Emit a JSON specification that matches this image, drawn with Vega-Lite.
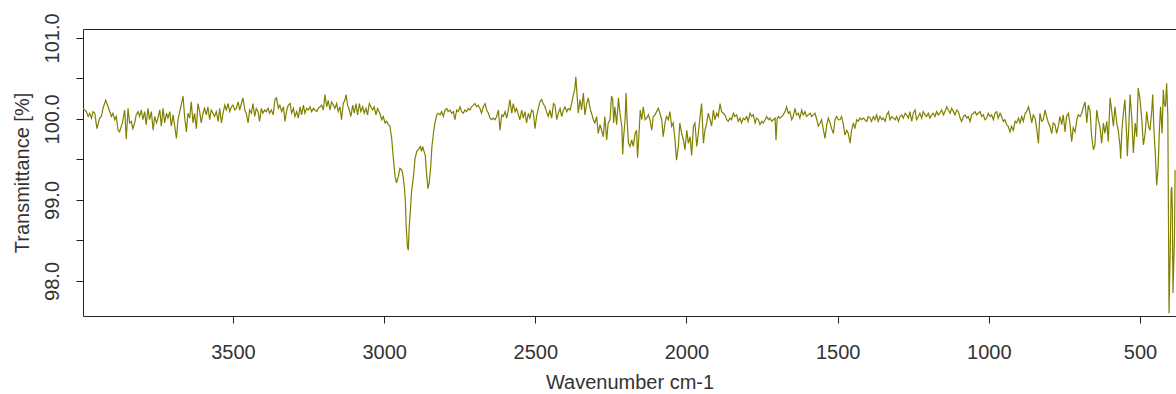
{
  "$schema": "https://vega.github.io/schema/vega-lite/v6.json",
  "width": 1093,
  "height": 287,
  "autosize": "none",
  "padding": {"left": 83, "top": 29, "right": 0, "bottom": 78},
  "background": "white",
  "config": {
    "font": "Liberation Sans",
    "view": {"stroke": "#222", "strokeWidth": 1}
  },
  "data": {"values": [
    {"wavenumber":3996,"transmittance":100.13},{"wavenumber":3985,"transmittance":100.09},{"wavenumber":3979,"transmittance":100.03},{"wavenumber":3974,"transmittance":100.07},{"wavenumber":3968,"transmittance":100.01},{"wavenumber":3963,"transmittance":100.09},{"wavenumber":3957,"transmittance":100.07},{"wavenumber":3950,"transmittance":99.88},{"wavenumber":3941,"transmittance":100.01},{"wavenumber":3935,"transmittance":100.03},{"wavenumber":3930,"transmittance":100.13},{"wavenumber":3921,"transmittance":100.23},{"wavenumber":3913,"transmittance":100.15},{"wavenumber":3902,"transmittance":100.03},{"wavenumber":3897,"transmittance":100.07},{"wavenumber":3891,"transmittance":99.99},{"wavenumber":3886,"transmittance":100.03},{"wavenumber":3880,"transmittance":99.86},{"wavenumber":3875,"transmittance":99.84},{"wavenumber":3866,"transmittance":99.95},{"wavenumber":3858,"transmittance":100.11},{"wavenumber":3853,"transmittance":99.75},{"wavenumber":3847,"transmittance":100.13},{"wavenumber":3842,"transmittance":99.95},{"wavenumber":3836,"transmittance":99.97},{"wavenumber":3831,"transmittance":99.88},{"wavenumber":3825,"transmittance":99.95},{"wavenumber":3820,"transmittance":100.05},{"wavenumber":3814,"transmittance":100.09},{"wavenumber":3809,"transmittance":100.03},{"wavenumber":3803,"transmittance":100.11},{"wavenumber":3798,"transmittance":99.99},{"wavenumber":3792,"transmittance":100.09},{"wavenumber":3787,"transmittance":99.93},{"wavenumber":3781,"transmittance":100.13},{"wavenumber":3776,"transmittance":99.99},{"wavenumber":3770,"transmittance":100.09},{"wavenumber":3764,"transmittance":99.86},{"wavenumber":3759,"transmittance":100.03},{"wavenumber":3753,"transmittance":99.95},{"wavenumber":3748,"transmittance":100.01},{"wavenumber":3742,"transmittance":100.11},{"wavenumber":3737,"transmittance":99.91},{"wavenumber":3731,"transmittance":100.13},{"wavenumber":3726,"transmittance":99.95},{"wavenumber":3720,"transmittance":100.07},{"wavenumber":3715,"transmittance":100.01},{"wavenumber":3709,"transmittance":100.09},{"wavenumber":3704,"transmittance":99.91},{"wavenumber":3698,"transmittance":100.05},{"wavenumber":3687,"transmittance":99.76},{"wavenumber":3682,"transmittance":99.99},{"wavenumber":3676,"transmittance":100.09},{"wavenumber":3665,"transmittance":100.28},{"wavenumber":3660,"transmittance":100.03},{"wavenumber":3654,"transmittance":99.84},{"wavenumber":3649,"transmittance":100.07},{"wavenumber":3643,"transmittance":100.01},{"wavenumber":3638,"transmittance":100.21},{"wavenumber":3632,"transmittance":99.95},{"wavenumber":3627,"transmittance":100.07},{"wavenumber":3621,"transmittance":99.88},{"wavenumber":3616,"transmittance":100.19},{"wavenumber":3610,"transmittance":100.09},{"wavenumber":3605,"transmittance":99.95},{"wavenumber":3599,"transmittance":100.07},{"wavenumber":3594,"transmittance":100.13},{"wavenumber":3588,"transmittance":100.05},{"wavenumber":3583,"transmittance":100.15},{"wavenumber":3577,"transmittance":99.99},{"wavenumber":3572,"transmittance":100.11},{"wavenumber":3566,"transmittance":100.07},{"wavenumber":3561,"transmittance":100.03},{"wavenumber":3555,"transmittance":100.09},{"wavenumber":3549,"transmittance":99.97},{"wavenumber":3544,"transmittance":100.13},{"wavenumber":3538,"transmittance":99.95},{"wavenumber":3533,"transmittance":100.07},{"wavenumber":3527,"transmittance":100.17},{"wavenumber":3522,"transmittance":100.11},{"wavenumber":3516,"transmittance":100.19},{"wavenumber":3511,"transmittance":100.09},{"wavenumber":3505,"transmittance":100.15},{"wavenumber":3500,"transmittance":100.17},{"wavenumber":3494,"transmittance":100.11},{"wavenumber":3489,"transmittance":100.13},{"wavenumber":3483,"transmittance":100.21},{"wavenumber":3478,"transmittance":100.11},{"wavenumber":3467,"transmittance":100.26},{"wavenumber":3461,"transmittance":100.11},{"wavenumber":3456,"transmittance":100.07},{"wavenumber":3450,"transmittance":99.95},{"wavenumber":3445,"transmittance":100.11},{"wavenumber":3439,"transmittance":100.07},{"wavenumber":3434,"transmittance":100.19},{"wavenumber":3428,"transmittance":100.03},{"wavenumber":3423,"transmittance":100.13},{"wavenumber":3417,"transmittance":100.09},{"wavenumber":3412,"transmittance":99.97},{"wavenumber":3406,"transmittance":100.13},{"wavenumber":3401,"transmittance":100.07},{"wavenumber":3395,"transmittance":100.11},{"wavenumber":3390,"transmittance":100.09},{"wavenumber":3384,"transmittance":100.13},{"wavenumber":3379,"transmittance":100.07},{"wavenumber":3373,"transmittance":100.11},
    {"wavenumber":3367,"transmittance":100.05},{"wavenumber":3361,"transmittance":100.24},{"wavenumber":3356,"transmittance":100.26},{"wavenumber":3350,"transmittance":100.13},{"wavenumber":3345,"transmittance":100.17},{"wavenumber":3339,"transmittance":100.09},{"wavenumber":3333,"transmittance":100.15},{"wavenumber":3328,"transmittance":99.97},{"wavenumber":3322,"transmittance":100.11},{"wavenumber":3317,"transmittance":100.17},{"wavenumber":3311,"transmittance":100.19},{"wavenumber":3306,"transmittance":100.07},{"wavenumber":3300,"transmittance":100.13},{"wavenumber":3295,"transmittance":100.03},{"wavenumber":3289,"transmittance":100.09},{"wavenumber":3284,"transmittance":100.01},{"wavenumber":3278,"transmittance":100.15},{"wavenumber":3273,"transmittance":100.05},{"wavenumber":3267,"transmittance":100.17},{"wavenumber":3262,"transmittance":100.07},{"wavenumber":3256,"transmittance":100.13},{"wavenumber":3251,"transmittance":100.11},{"wavenumber":3245,"transmittance":100.15},{"wavenumber":3240,"transmittance":100.09},{"wavenumber":3234,"transmittance":100.13},{"wavenumber":3229,"transmittance":100.11},{"wavenumber":3223,"transmittance":100.09},{"wavenumber":3218,"transmittance":100.13},{"wavenumber":3212,"transmittance":100.15},{"wavenumber":3207,"transmittance":100.17},{"wavenumber":3201,"transmittance":100.11},{"wavenumber":3196,"transmittance":100.30},{"wavenumber":3190,"transmittance":100.15},{"wavenumber":3185,"transmittance":100.23},{"wavenumber":3179,"transmittance":100.11},{"wavenumber":3174,"transmittance":100.21},{"wavenumber":3168,"transmittance":100.17},{"wavenumber":3163,"transmittance":100.13},{"wavenumber":3157,"transmittance":100.19},{"wavenumber":3152,"transmittance":100.09},{"wavenumber":3146,"transmittance":100.15},{"wavenumber":3141,"transmittance":99.99},{"wavenumber":3135,"transmittance":100.19},{"wavenumber":3130,"transmittance":100.23},{"wavenumber":3126,"transmittance":100.30},{"wavenumber":3121,"transmittance":100.17},{"wavenumber":3115,"transmittance":100.11},{"wavenumber":3110,"transmittance":100.03},{"wavenumber":3104,"transmittance":100.17},{"wavenumber":3099,"transmittance":100.07},{"wavenumber":3093,"transmittance":100.19},{"wavenumber":3088,"transmittance":100.05},{"wavenumber":3082,"transmittance":100.19},{"wavenumber":3077,"transmittance":100.09},{"wavenumber":3071,"transmittance":100.15},{"wavenumber":3066,"transmittance":100.07},{"wavenumber":3060,"transmittance":100.13},{"wavenumber":3055,"transmittance":100.05},{"wavenumber":3049,"transmittance":100.19},{"wavenumber":3044,"transmittance":100.15},{"wavenumber":3038,"transmittance":100.11},{"wavenumber":3033,"transmittance":100.15},{"wavenumber":3027,"transmittance":100.05},{"wavenumber":3022,"transmittance":100.13},{"wavenumber":3014,"transmittance":100.07},{"wavenumber":3008,"transmittance":99.99},{"wavenumber":3003,"transmittance":100.03},{"wavenumber":2997,"transmittance":99.95},{"wavenumber":2992,"transmittance":99.97},{"wavenumber":2986,"transmittance":99.93},{"wavenumber":2981,"transmittance":99.91},{"wavenumber":2975,"transmittance":99.76},{"wavenumber":2970,"transmittance":99.53},{"wavenumber":2964,"transmittance":99.29},{"wavenumber":2959,"transmittance":99.21},{"wavenumber":2953,"transmittance":99.29},{"wavenumber":2948,"transmittance":99.39},{"wavenumber":2942,"transmittance":99.37},{"wavenumber":2939,"transmittance":99.33},{"wavenumber":2933,"transmittance":99.16},{"wavenumber":2930,"transmittance":98.99},{"wavenumber":2927,"transmittance":98.67},{"wavenumber":2923,"transmittance":98.42},{"wavenumber":2920,"transmittance":98.38},{"wavenumber":2917,"transmittance":98.67},{"wavenumber":2913,"transmittance":98.88},{"wavenumber":2909,"transmittance":99.12},{"wavenumber":2903,"transmittance":99.29},{"wavenumber":2898,"transmittance":99.51},{"wavenumber":2892,"transmittance":99.60},{"wavenumber":2887,"transmittance":99.62},{"wavenumber":2881,"transmittance":99.66},{"wavenumber":2876,"transmittance":99.60},{"wavenumber":2873,"transmittance":99.66},{"wavenumber":2868,"transmittance":99.60},{"wavenumber":2864,"transmittance":99.55},{"wavenumber":2859,"transmittance":99.29},{"wavenumber":2855,"transmittance":99.14},{"wavenumber":2851,"transmittance":99.21},{"wavenumber":2846,"transmittance":99.41},{"wavenumber":2842,"transmittance":99.66},{"wavenumber":2837,"transmittance":99.82},{"wavenumber":2832,"transmittance":99.95},{"wavenumber":2826,"transmittance":100.05},{"wavenumber":2821,"transmittance":100.07},{"wavenumber":2815,"transmittance":100.05},{"wavenumber":2810,"transmittance":100.09},{"wavenumber":2804,"transmittance":100.03},{"wavenumber":2799,"transmittance":100.11},{"wavenumber":2793,"transmittance":100.13},{"wavenumber":2788,"transmittance":100.09},{"wavenumber":2782,"transmittance":100.11},{"wavenumber":2777,"transmittance":100.07},{"wavenumber":2771,"transmittance":100.09},{"wavenumber":2766,"transmittance":99.99},{"wavenumber":2760,"transmittance":100.11},{"wavenumber":2755,"transmittance":100.09},
    {"wavenumber":2749,"transmittance":100.15},{"wavenumber":2744,"transmittance":100.09},{"wavenumber":2738,"transmittance":100.07},{"wavenumber":2733,"transmittance":100.11},{"wavenumber":2727,"transmittance":100.09},{"wavenumber":2722,"transmittance":100.13},{"wavenumber":2716,"transmittance":100.11},{"wavenumber":2711,"transmittance":100.15},{"wavenumber":2705,"transmittance":100.17},{"wavenumber":2700,"transmittance":100.19},{"wavenumber":2694,"transmittance":100.15},{"wavenumber":2689,"transmittance":100.17},{"wavenumber":2683,"transmittance":100.13},{"wavenumber":2678,"transmittance":100.07},{"wavenumber":2672,"transmittance":100.15},{"wavenumber":2666,"transmittance":100.19},{"wavenumber":2661,"transmittance":100.11},{"wavenumber":2655,"transmittance":100.07},{"wavenumber":2650,"transmittance":100.01},{"wavenumber":2644,"transmittance":99.99},{"wavenumber":2639,"transmittance":100.01},{"wavenumber":2633,"transmittance":99.99},{"wavenumber":2628,"transmittance":100.03},{"wavenumber":2622,"transmittance":100.11},{"wavenumber":2617,"transmittance":99.86},{"wavenumber":2611,"transmittance":100.05},{"wavenumber":2606,"transmittance":100.03},{"wavenumber":2600,"transmittance":100.09},{"wavenumber":2595,"transmittance":100.01},{"wavenumber":2589,"transmittance":100.11},{"wavenumber":2584,"transmittance":100.24},{"wavenumber":2578,"transmittance":100.07},{"wavenumber":2573,"transmittance":100.19},{"wavenumber":2567,"transmittance":100.09},{"wavenumber":2562,"transmittance":100.13},{"wavenumber":2556,"transmittance":100.05},{"wavenumber":2551,"transmittance":99.99},{"wavenumber":2545,"transmittance":100.11},{"wavenumber":2540,"transmittance":100.01},{"wavenumber":2534,"transmittance":100.09},{"wavenumber":2529,"transmittance":99.95},{"wavenumber":2523,"transmittance":100.07},{"wavenumber":2518,"transmittance":100.01},{"wavenumber":2512,"transmittance":100.11},{"wavenumber":2507,"transmittance":100.09},{"wavenumber":2501,"transmittance":99.88},{"wavenumber":2496,"transmittance":100.03},{"wavenumber":2490,"transmittance":100.13},{"wavenumber":2485,"transmittance":100.21},{"wavenumber":2479,"transmittance":100.24},{"wavenumber":2474,"transmittance":100.19},{"wavenumber":2468,"transmittance":100.15},{"wavenumber":2463,"transmittance":100.09},{"wavenumber":2457,"transmittance":100.03},{"wavenumber":2452,"transmittance":100.11},{"wavenumber":2446,"transmittance":100.01},{"wavenumber":2440,"transmittance":100.19},{"wavenumber":2435,"transmittance":100.17},{"wavenumber":2429,"transmittance":99.99},{"wavenumber":2424,"transmittance":100.07},{"wavenumber":2418,"transmittance":100.13},{"wavenumber":2413,"transmittance":100.03},{"wavenumber":2407,"transmittance":100.11},{"wavenumber":2402,"transmittance":100.15},{"wavenumber":2396,"transmittance":100.09},{"wavenumber":2391,"transmittance":100.13},{"wavenumber":2385,"transmittance":100.11},{"wavenumber":2380,"transmittance":100.19},{"wavenumber":2374,"transmittance":100.30},{"wavenumber":2369,"transmittance":100.38},{"wavenumber":2366,"transmittance":100.52},{"wavenumber":2362,"transmittance":100.30},{"wavenumber":2358,"transmittance":100.07},{"wavenumber":2352,"transmittance":100.24},{"wavenumber":2347,"transmittance":100.11},{"wavenumber":2341,"transmittance":100.32},{"wavenumber":2336,"transmittance":100.05},{"wavenumber":2330,"transmittance":100.19},{"wavenumber":2325,"transmittance":100.26},{"wavenumber":2319,"transmittance":100.13},{"wavenumber":2314,"transmittance":100.07},{"wavenumber":2308,"transmittance":99.99},{"wavenumber":2303,"transmittance":99.95},{"wavenumber":2297,"transmittance":100.03},{"wavenumber":2292,"transmittance":99.82},{"wavenumber":2286,"transmittance":99.93},{"wavenumber":2281,"transmittance":99.86},{"wavenumber":2275,"transmittance":99.78},{"wavenumber":2270,"transmittance":100.03},{"wavenumber":2264,"transmittance":99.74},{"wavenumber":2259,"transmittance":99.95},{"wavenumber":2253,"transmittance":99.99},{"wavenumber":2248,"transmittance":100.28},{"wavenumber":2244,"transmittance":100.24},{"wavenumber":2241,"transmittance":99.95},{"wavenumber":2237,"transmittance":100.15},{"wavenumber":2231,"transmittance":99.93},{"wavenumber":2225,"transmittance":100.26},{"wavenumber":2220,"transmittance":100.07},{"wavenumber":2214,"transmittance":99.91},{"wavenumber":2211,"transmittance":99.56},{"wavenumber":2208,"transmittance":99.78},{"wavenumber":2203,"transmittance":99.99},{"wavenumber":2200,"transmittance":100.32},{"wavenumber":2197,"transmittance":100.03},{"wavenumber":2192,"transmittance":99.70},{"wavenumber":2187,"transmittance":99.66},{"wavenumber":2181,"transmittance":99.74},{"wavenumber":2176,"transmittance":99.66},{"wavenumber":2170,"transmittance":99.82},{"wavenumber":2165,"transmittance":99.86},{"wavenumber":2162,"transmittance":99.52},{"wavenumber":2157,"transmittance":99.82},{"wavenumber":2153,"transmittance":100.11},{"wavenumber":2148,"transmittance":99.99},{"wavenumber":2143,"transmittance":100.15},
    {"wavenumber":2137,"transmittance":99.99},{"wavenumber":2132,"transmittance":100.01},{"wavenumber":2126,"transmittance":100.05},{"wavenumber":2121,"transmittance":99.99},{"wavenumber":2115,"transmittance":99.86},{"wavenumber":2110,"transmittance":100.03},{"wavenumber":2104,"transmittance":100.05},{"wavenumber":2099,"transmittance":100.09},{"wavenumber":2093,"transmittance":100.13},{"wavenumber":2088,"transmittance":100.07},{"wavenumber":2082,"transmittance":99.99},{"wavenumber":2077,"transmittance":99.78},{"wavenumber":2071,"transmittance":99.95},{"wavenumber":2066,"transmittance":100.03},{"wavenumber":2060,"transmittance":99.99},{"wavenumber":2055,"transmittance":100.09},{"wavenumber":2049,"transmittance":99.91},{"wavenumber":2044,"transmittance":99.95},{"wavenumber":2038,"transmittance":99.74},{"wavenumber":2033,"transmittance":99.49},{"wavenumber":2027,"transmittance":99.66},{"wavenumber":2022,"transmittance":99.95},{"wavenumber":2016,"transmittance":99.82},{"wavenumber":2010,"transmittance":99.74},{"wavenumber":2005,"transmittance":99.62},{"wavenumber":1999,"transmittance":99.86},{"wavenumber":1994,"transmittance":99.70},{"wavenumber":1988,"transmittance":99.78},{"wavenumber":1983,"transmittance":99.55},{"wavenumber":1977,"transmittance":99.91},{"wavenumber":1972,"transmittance":99.95},{"wavenumber":1966,"transmittance":99.66},{"wavenumber":1961,"transmittance":99.82},{"wavenumber":1955,"transmittance":100.03},{"wavenumber":1950,"transmittance":100.19},{"wavenumber":1944,"transmittance":99.70},{"wavenumber":1939,"transmittance":99.86},{"wavenumber":1933,"transmittance":99.95},{"wavenumber":1928,"transmittance":100.07},{"wavenumber":1922,"transmittance":99.99},{"wavenumber":1917,"transmittance":99.91},{"wavenumber":1911,"transmittance":100.11},{"wavenumber":1906,"transmittance":99.99},{"wavenumber":1900,"transmittance":100.07},{"wavenumber":1895,"transmittance":100.03},{"wavenumber":1889,"transmittance":100.19},{"wavenumber":1884,"transmittance":100.09},{"wavenumber":1878,"transmittance":100.07},{"wavenumber":1873,"transmittance":100.05},{"wavenumber":1867,"transmittance":99.99},{"wavenumber":1862,"transmittance":99.97},{"wavenumber":1856,"transmittance":100.01},{"wavenumber":1851,"transmittance":99.99},{"wavenumber":1845,"transmittance":100.07},{"wavenumber":1840,"transmittance":100.03},{"wavenumber":1834,"transmittance":100.05},{"wavenumber":1829,"transmittance":99.97},{"wavenumber":1823,"transmittance":100.01},{"wavenumber":1818,"transmittance":99.95},{"wavenumber":1812,"transmittance":100.01},{"wavenumber":1807,"transmittance":99.99},{"wavenumber":1801,"transmittance":100.03},{"wavenumber":1796,"transmittance":99.97},{"wavenumber":1790,"transmittance":100.07},{"wavenumber":1784,"transmittance":100.03},{"wavenumber":1779,"transmittance":100.05},{"wavenumber":1773,"transmittance":99.95},{"wavenumber":1768,"transmittance":100.01},{"wavenumber":1762,"transmittance":99.99},{"wavenumber":1757,"transmittance":99.93},{"wavenumber":1751,"transmittance":99.97},{"wavenumber":1746,"transmittance":99.95},{"wavenumber":1740,"transmittance":99.99},{"wavenumber":1735,"transmittance":100.03},{"wavenumber":1729,"transmittance":99.99},{"wavenumber":1724,"transmittance":100.01},{"wavenumber":1718,"transmittance":99.97},{"wavenumber":1713,"transmittance":99.99},{"wavenumber":1707,"transmittance":100.01},{"wavenumber":1704,"transmittance":99.74},{"wavenumber":1700,"transmittance":100.01},{"wavenumber":1696,"transmittance":100.03},{"wavenumber":1691,"transmittance":100.01},{"wavenumber":1685,"transmittance":100.03},{"wavenumber":1680,"transmittance":100.05},{"wavenumber":1674,"transmittance":100.09},{"wavenumber":1669,"transmittance":100.15},{"wavenumber":1663,"transmittance":100.07},{"wavenumber":1658,"transmittance":100.09},{"wavenumber":1652,"transmittance":99.99},{"wavenumber":1647,"transmittance":100.03},{"wavenumber":1641,"transmittance":100.13},{"wavenumber":1636,"transmittance":100.05},{"wavenumber":1630,"transmittance":100.07},{"wavenumber":1625,"transmittance":100.01},{"wavenumber":1619,"transmittance":100.11},{"wavenumber":1614,"transmittance":100.05},{"wavenumber":1608,"transmittance":100.09},{"wavenumber":1603,"transmittance":100.03},{"wavenumber":1597,"transmittance":100.05},{"wavenumber":1591,"transmittance":100.07},{"wavenumber":1586,"transmittance":100.03},{"wavenumber":1580,"transmittance":100.05},{"wavenumber":1575,"transmittance":100.07},{"wavenumber":1569,"transmittance":99.99},{"wavenumber":1564,"transmittance":99.91},{"wavenumber":1558,"transmittance":99.95},{"wavenumber":1553,"transmittance":99.99},{"wavenumber":1547,"transmittance":99.86},{"wavenumber":1542,"transmittance":99.76},{"wavenumber":1536,"transmittance":99.93},{"wavenumber":1531,"transmittance":100.01},{"wavenumber":1525,"transmittance":99.95},{"wavenumber":1520,"transmittance":99.88},{"wavenumber":1514,"transmittance":99.82},{"wavenumber":1509,"transmittance":99.99},{"wavenumber":1503,"transmittance":100.03},{"wavenumber":1498,"transmittance":99.99},
    {"wavenumber":1492,"transmittance":99.99},{"wavenumber":1487,"transmittance":100.03},{"wavenumber":1481,"transmittance":99.93},{"wavenumber":1476,"transmittance":99.80},{"wavenumber":1470,"transmittance":99.86},{"wavenumber":1465,"transmittance":99.82},{"wavenumber":1459,"transmittance":99.70},{"wavenumber":1454,"transmittance":99.86},{"wavenumber":1448,"transmittance":99.95},{"wavenumber":1443,"transmittance":99.88},{"wavenumber":1437,"transmittance":99.99},{"wavenumber":1432,"transmittance":99.97},{"wavenumber":1426,"transmittance":100.01},{"wavenumber":1421,"transmittance":99.99},{"wavenumber":1415,"transmittance":100.01},{"wavenumber":1410,"transmittance":99.99},{"wavenumber":1404,"transmittance":99.97},{"wavenumber":1399,"transmittance":100.03},{"wavenumber":1393,"transmittance":100.01},{"wavenumber":1388,"transmittance":99.97},{"wavenumber":1382,"transmittance":100.03},{"wavenumber":1377,"transmittance":99.99},{"wavenumber":1371,"transmittance":100.05},{"wavenumber":1366,"transmittance":99.97},{"wavenumber":1360,"transmittance":100.03},{"wavenumber":1354,"transmittance":99.99},{"wavenumber":1349,"transmittance":100.01},{"wavenumber":1343,"transmittance":99.97},{"wavenumber":1338,"transmittance":100.05},{"wavenumber":1332,"transmittance":100.09},{"wavenumber":1327,"transmittance":99.99},{"wavenumber":1321,"transmittance":100.03},{"wavenumber":1316,"transmittance":100.01},{"wavenumber":1310,"transmittance":99.99},{"wavenumber":1305,"transmittance":100.03},{"wavenumber":1299,"transmittance":99.97},{"wavenumber":1294,"transmittance":100.03},{"wavenumber":1288,"transmittance":100.05},{"wavenumber":1283,"transmittance":100.01},{"wavenumber":1277,"transmittance":100.07},{"wavenumber":1272,"transmittance":100.05},{"wavenumber":1266,"transmittance":100.01},{"wavenumber":1261,"transmittance":100.09},{"wavenumber":1255,"transmittance":99.97},{"wavenumber":1250,"transmittance":100.07},{"wavenumber":1244,"transmittance":100.11},{"wavenumber":1239,"transmittance":99.99},{"wavenumber":1233,"transmittance":100.03},{"wavenumber":1228,"transmittance":100.07},{"wavenumber":1222,"transmittance":100.01},{"wavenumber":1217,"transmittance":100.09},{"wavenumber":1211,"transmittance":100.05},{"wavenumber":1206,"transmittance":100.03},{"wavenumber":1200,"transmittance":100.07},{"wavenumber":1195,"transmittance":100.01},{"wavenumber":1189,"transmittance":100.05},{"wavenumber":1184,"transmittance":100.07},{"wavenumber":1178,"transmittance":100.03},{"wavenumber":1173,"transmittance":100.09},{"wavenumber":1167,"transmittance":100.05},{"wavenumber":1162,"transmittance":100.07},{"wavenumber":1156,"transmittance":100.11},{"wavenumber":1150,"transmittance":100.05},{"wavenumber":1145,"transmittance":100.09},{"wavenumber":1139,"transmittance":100.15},{"wavenumber":1134,"transmittance":100.11},{"wavenumber":1128,"transmittance":100.07},{"wavenumber":1123,"transmittance":100.13},{"wavenumber":1117,"transmittance":100.09},{"wavenumber":1112,"transmittance":100.05},{"wavenumber":1106,"transmittance":100.11},{"wavenumber":1101,"transmittance":100.09},{"wavenumber":1095,"transmittance":100.01},{"wavenumber":1090,"transmittance":99.97},{"wavenumber":1084,"transmittance":100.03},{"wavenumber":1079,"transmittance":100.05},{"wavenumber":1073,"transmittance":100.01},{"wavenumber":1068,"transmittance":100.03},{"wavenumber":1062,"transmittance":99.97},{"wavenumber":1057,"transmittance":100.05},{"wavenumber":1051,"transmittance":100.07},{"wavenumber":1046,"transmittance":100.09},{"wavenumber":1040,"transmittance":100.05},{"wavenumber":1035,"transmittance":100.07},{"wavenumber":1029,"transmittance":100.09},{"wavenumber":1024,"transmittance":100.03},{"wavenumber":1018,"transmittance":100.05},{"wavenumber":1013,"transmittance":99.99},{"wavenumber":1007,"transmittance":100.01},{"wavenumber":1002,"transmittance":100.07},{"wavenumber":996,"transmittance":100.03},{"wavenumber":991,"transmittance":100.05},{"wavenumber":985,"transmittance":99.99},{"wavenumber":980,"transmittance":100.07},{"wavenumber":974,"transmittance":100.09},{"wavenumber":969,"transmittance":100.01},{"wavenumber":963,"transmittance":100.07},{"wavenumber":958,"transmittance":100.03},{"wavenumber":952,"transmittance":99.97},{"wavenumber":947,"transmittance":99.99},{"wavenumber":941,"transmittance":99.93},{"wavenumber":936,"transmittance":99.91},{"wavenumber":930,"transmittance":99.84},{"wavenumber":925,"transmittance":99.91},{"wavenumber":919,"transmittance":99.86},{"wavenumber":913,"transmittance":99.97},{"wavenumber":908,"transmittance":99.95},{"wavenumber":902,"transmittance":100.01},{"wavenumber":897,"transmittance":99.95},{"wavenumber":891,"transmittance":100.03},{"wavenumber":886,"transmittance":99.97},{"wavenumber":880,"transmittance":100.07},{"wavenumber":875,"transmittance":100.09},{"wavenumber":869,"transmittance":100.15},{"wavenumber":864,"transmittance":100.07},{"wavenumber":858,"transmittance":99.95},{"wavenumber":853,"transmittance":100.05},
    {"wavenumber":847,"transmittance":100.01},{"wavenumber":842,"transmittance":99.89},{"wavenumber":836,"transmittance":99.70},{"wavenumber":831,"transmittance":100.07},{"wavenumber":825,"transmittance":99.97},{"wavenumber":820,"transmittance":99.99},{"wavenumber":814,"transmittance":100.11},{"wavenumber":809,"transmittance":100.03},{"wavenumber":803,"transmittance":99.95},{"wavenumber":798,"transmittance":99.91},{"wavenumber":792,"transmittance":99.82},{"wavenumber":787,"transmittance":99.95},{"wavenumber":781,"transmittance":99.93},{"wavenumber":776,"transmittance":99.82},{"wavenumber":770,"transmittance":99.91},{"wavenumber":765,"transmittance":100.03},{"wavenumber":759,"transmittance":99.93},{"wavenumber":754,"transmittance":100.05},{"wavenumber":748,"transmittance":99.84},{"wavenumber":743,"transmittance":100.03},{"wavenumber":737,"transmittance":100.07},{"wavenumber":732,"transmittance":99.95},{"wavenumber":726,"transmittance":99.72},{"wavenumber":721,"transmittance":99.89},{"wavenumber":715,"transmittance":99.84},{"wavenumber":709,"transmittance":99.99},{"wavenumber":704,"transmittance":100.05},{"wavenumber":698,"transmittance":100.03},{"wavenumber":693,"transmittance":100.07},{"wavenumber":687,"transmittance":100.15},{"wavenumber":682,"transmittance":100.21},{"wavenumber":676,"transmittance":99.95},{"wavenumber":671,"transmittance":100.17},{"wavenumber":665,"transmittance":100.09},{"wavenumber":660,"transmittance":99.78},{"wavenumber":654,"transmittance":99.62},{"wavenumber":649,"transmittance":99.68},{"wavenumber":643,"transmittance":100.11},{"wavenumber":638,"transmittance":99.99},{"wavenumber":632,"transmittance":99.89},{"wavenumber":627,"transmittance":99.70},{"wavenumber":621,"transmittance":99.95},{"wavenumber":616,"transmittance":99.82},{"wavenumber":610,"transmittance":99.97},{"wavenumber":605,"transmittance":99.72},{"wavenumber":599,"transmittance":100.26},{"wavenumber":594,"transmittance":100.11},{"wavenumber":588,"transmittance":99.91},{"wavenumber":583,"transmittance":100.15},{"wavenumber":577,"transmittance":99.95},{"wavenumber":572,"transmittance":99.86},{"wavenumber":566,"transmittance":99.66},{"wavenumber":564,"transmittance":99.51},{"wavenumber":560,"transmittance":99.86},{"wavenumber":555,"transmittance":100.07},{"wavenumber":550,"transmittance":100.24},{"wavenumber":544,"transmittance":99.78},{"wavenumber":542,"transmittance":99.54},{"wavenumber":537,"transmittance":99.91},{"wavenumber":533,"transmittance":100.30},{"wavenumber":527,"transmittance":99.99},{"wavenumber":522,"transmittance":99.58},{"wavenumber":516,"transmittance":99.95},{"wavenumber":511,"transmittance":99.78},{"wavenumber":506,"transmittance":100.38},{"wavenumber":500,"transmittance":100.24},{"wavenumber":494,"transmittance":99.99},{"wavenumber":489,"transmittance":99.68},{"wavenumber":483,"transmittance":99.82},{"wavenumber":478,"transmittance":100.09},{"wavenumber":472,"transmittance":99.91},{"wavenumber":467,"transmittance":99.86},{"wavenumber":461,"transmittance":100.11},{"wavenumber":458,"transmittance":100.30},{"wavenumber":454,"transmittance":99.86},{"wavenumber":449,"transmittance":99.54},{"wavenumber":445,"transmittance":99.18},{"wavenumber":440,"transmittance":99.41},{"wavenumber":436,"transmittance":99.86},{"wavenumber":432,"transmittance":100.15},{"wavenumber":427,"transmittance":99.82},{"wavenumber":423,"transmittance":100.36},{"wavenumber":420,"transmittance":100.19},{"wavenumber":416,"transmittance":100.15},{"wavenumber":412,"transmittance":100.44},{"wavenumber":408,"transmittance":100.03},{"wavenumber":406,"transmittance":98.83},{"wavenumber":404,"transmittance":97.60},{"wavenumber":402,"transmittance":98.05},{"wavenumber":400,"transmittance":98.38},{"wavenumber":397,"transmittance":99.12},{"wavenumber":395,"transmittance":99.16},{"wavenumber":393,"transmittance":98.88},{"wavenumber":391,"transmittance":97.85},{"wavenumber":389,"transmittance":98.13},{"wavenumber":386,"transmittance":98.55},{"wavenumber":384,"transmittance":99.37}
  ]},
  "mark": {"type": "line", "color": "#808000", "strokeWidth": 1.2, "clip": true},
  "encoding": {
    "x": {
      "field": "wavenumber",
      "type": "quantitative",
      "sort": null,
      "scale": {"domain": [381, 3996], "reverse": true, "nice": false, "zero": false},
      "axis": {
        "title": "Wavenumber cm-1",
        "values": [3500, 3000, 2500, 2000, 1500, 1000, 500],
        "format": "d",
        "grid": false,
        "domain": false,
        "tickSize": 7,
        "tickColor": "#222",
        "labelFontSize": 20,
        "labelColor": "#333",
        "labelBaseline": "alphabetic",
        "labelPadding": 35,
        "labelFlush": false,
        "titleFontSize": 20,
        "titleFontWeight": "normal",
        "titleColor": "#333",
        "titleBaseline": "alphabetic",
        "titleY": 72
      }
    },
    "y": {
      "field": "transmittance",
      "type": "quantitative",
      "scale": {"domain": [97.567, 101.11], "nice": false, "zero": false},
      "axis": {
        "title": "Transmittance [%]",
        "values": [98, 98.5, 99, 99.5, 100, 100.5, 101],
        "format": ".1f",
        "labelExpr": "datum.value % 1 === 0 ? datum.label : ''",
        "grid": false,
        "domain": false,
        "tickSize": 7,
        "tickColor": "#222",
        "labelFontSize": 20,
        "labelColor": "#333",
        "labelAngle": -90,
        "labelAlign": "center",
        "labelBaseline": "alphabetic",
        "labelPadding": 18,
        "labelFlush": false,
        "titleFontSize": 20,
        "titleFontWeight": "normal",
        "titleColor": "#333",
        "titleAngle": -90,
        "titleAlign": "center",
        "titleBaseline": "alphabetic",
        "titleX": -55,
        "titleY": 143.5
      }
    }
  }
}
